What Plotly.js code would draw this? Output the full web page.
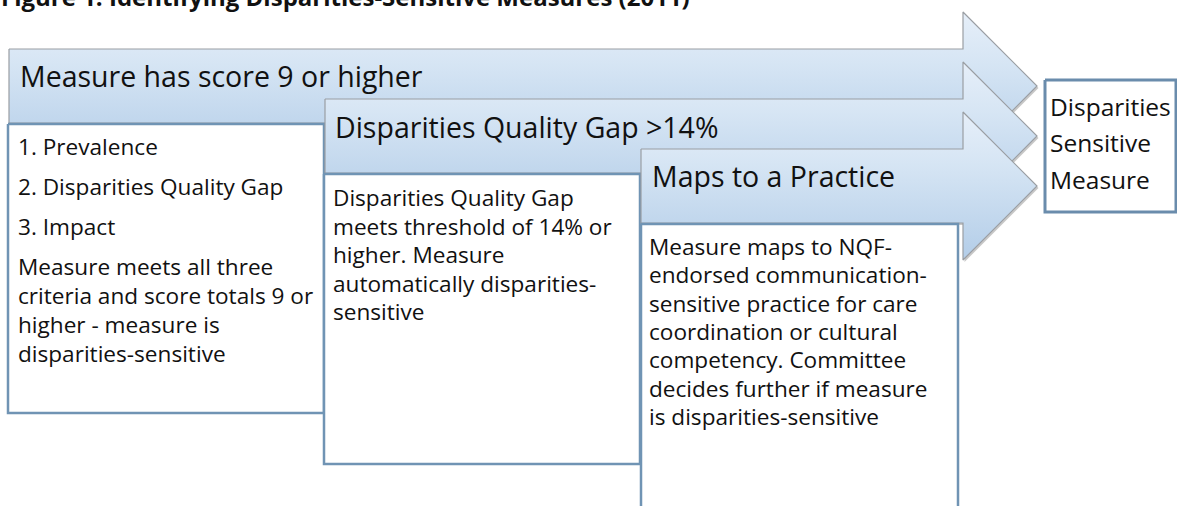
<!DOCTYPE html>
<html><head><meta charset="utf-8">
<script src="https://cdn.plot.ly/plotly-3.0.1.min.js"></script>
<style>html,body{margin:0;padding:0;background:#fff;overflow:hidden;} #chart{width:1177px;height:506px;}</style>
</head><body><div id="chart"></div>
<script>
// ---- content ----
const titleText = "Figure 1. Identifying Disparities-Sensitive Measures (2011)";
const stepLabels = ["Measure has score 9 or higher", "Disparities Quality Gap >14%", "Maps to a Practice"];
const step1Lines = ["1. Prevalence", "2. Disparities Quality Gap", "3. Impact", "Measure meets all three", "criteria and score totals 9 or", "higher - measure is", "disparities-sensitive"];
const step2Lines = ["Disparities Quality Gap", "meets threshold of 14% or", "higher. Measure", "automatically disparities-", "sensitive"];
const step3Lines = ["Measure maps to NQF-", "endorsed communication-", "sensitive practice for care", "coordination or cultural", "competency. Committee", "decides further if measure", "is disparities-sensitive"];
const resultLines = ["Disparities", "Sensitive", "Measure"];

// ---- geometry (pixel space of the figure) ----
const W = 1177, H = 506;
const arrowGeom = [{left: 9, top: 49, bottom: 123}, {left: 325, top: 99, bottom: 173}, {left: 641, top: 149, bottom: 223}];
const headBack = 963, headTip = 1037, headExt = 37;
const boxGeom = [{x0: 8, x1: 324, y0: 124, y1: 413}, {x0: 324, x1: 640, y0: 174, y1: 464}, {x0: 641, x1: 958, y0: 224, y1: 540}];
const resultBox = {x0: 1045, x1: 1176, y0: 80, y1: 212};
const labelPos = [{x: 19, base: 86}, {x: 334, base: 137}, {x: 651, base: 186}];
const lineBase = [[155, 195, 235, 275, 304, 333, 362], [206, 235, 263, 292, 320], [255, 283, 312, 340, 368, 397, 425]];
const lineX = [17, 332, 648];
const resultBase = [115, 151, 188];
const resultX = 1049;

const FONT = "'Open Sans', Lato, sans-serif";
const bodySize = 22.6, labelSize = 28.5, titleSize = 24, resultSize = 24.5;
const boxLine = '#7094b4';

function arrowPts(g, dx, dy) {
  const mid = (g.top + g.bottom) / 2;
  const xs = [g.left, headBack, headBack, headTip, headBack, headBack, g.left, g.left];
  const ys = [g.top, g.top, g.top - headExt, mid, g.bottom + headExt, g.bottom, g.bottom, g.top];
  return {x: xs.map(v => v + dx), y: ys.map(v => v + dy)};
}
function rectPts(b) {
  return {x: [b.x0, b.x1, b.x1, b.x0, b.x0], y: [b.y0, b.y0, b.y1, b.y1, b.y0]};
}

const traces = [];
arrowGeom.forEach((g, i) => {
  const s = arrowPts(g, 1.5, 2);
  traces.push({type: 'scatter', mode: 'lines', x: s.x, y: s.y, fill: 'toself',
    fillcolor: 'rgba(0,0,0,0.22)', line: {width: 0, color: 'rgba(0,0,0,0)'}, hoverinfo: 'skip', showlegend: false});
  const a = arrowPts(g, 0, 0);
  traces.push({type: 'scatter', mode: 'lines', x: a.x, y: a.y, fill: 'toself',
    fillgradient: {type: 'vertical', start: g.top - headExt, stop: g.bottom + headExt,
      colorscale: [[0, '#e6eff9'], [0.35, '#d6e5f4'], [1, '#b3cde8']]},
    line: {width: 1.2, color: '#9a9ea3'}, hoverinfo: 'skip', showlegend: false});
  const r = rectPts(boxGeom[i]);
  traces.push({type: 'scatter', mode: 'lines', x: r.x, y: r.y, fill: 'toself',
    fillcolor: '#ffffff', line: {width: 2.5, color: boxLine}, hoverinfo: 'skip', showlegend: false});
});
const rr = rectPts(resultBox);
traces.push({type: 'scatter', mode: 'lines', x: rr.x, y: rr.y, fill: 'toself',
  fillcolor: '#ffffff', line: {width: 3, color: '#6a8cac'}, hoverinfo: 'skip', showlegend: false});

const ann = [];
function addLine(text, x, base, size, bold) {
  ann.push({text: bold ? '<b>' + text + '</b>' : text,
    x: x / W, y: 1 - (base - 0.36 * size) / H, xref: 'paper', yref: 'paper',
    xanchor: 'left', yanchor: 'middle', showarrow: false, borderpad: 0,
    font: {family: FONT, size: size, color: '#111111'}});
}
addLine(titleText, 0, 5, titleSize, true);
stepLabels.forEach((t, i) => addLine(t, labelPos[i].x, labelPos[i].base, labelSize, false));
[step1Lines, step2Lines, step3Lines].forEach((lines, i) => {
  lines.forEach((t, j) => addLine(t, lineX[i], lineBase[i][j], bodySize, false));
});
resultLines.forEach((t, j) => addLine(t, resultX, resultBase[j], resultSize, false));

const layout = {
  width: W, height: H, margin: {l: 0, r: 0, t: 0, b: 0},
  paper_bgcolor: '#ffffff', plot_bgcolor: '#ffffff',
  xaxis: {range: [0, W], visible: false, fixedrange: true},
  yaxis: {range: [H, 0], visible: false, fixedrange: true},
  showlegend: false, annotations: ann
};
Plotly.newPlot('chart', traces, layout, {displayModeBar: false, staticPlot: true});
</script>
</body></html>
